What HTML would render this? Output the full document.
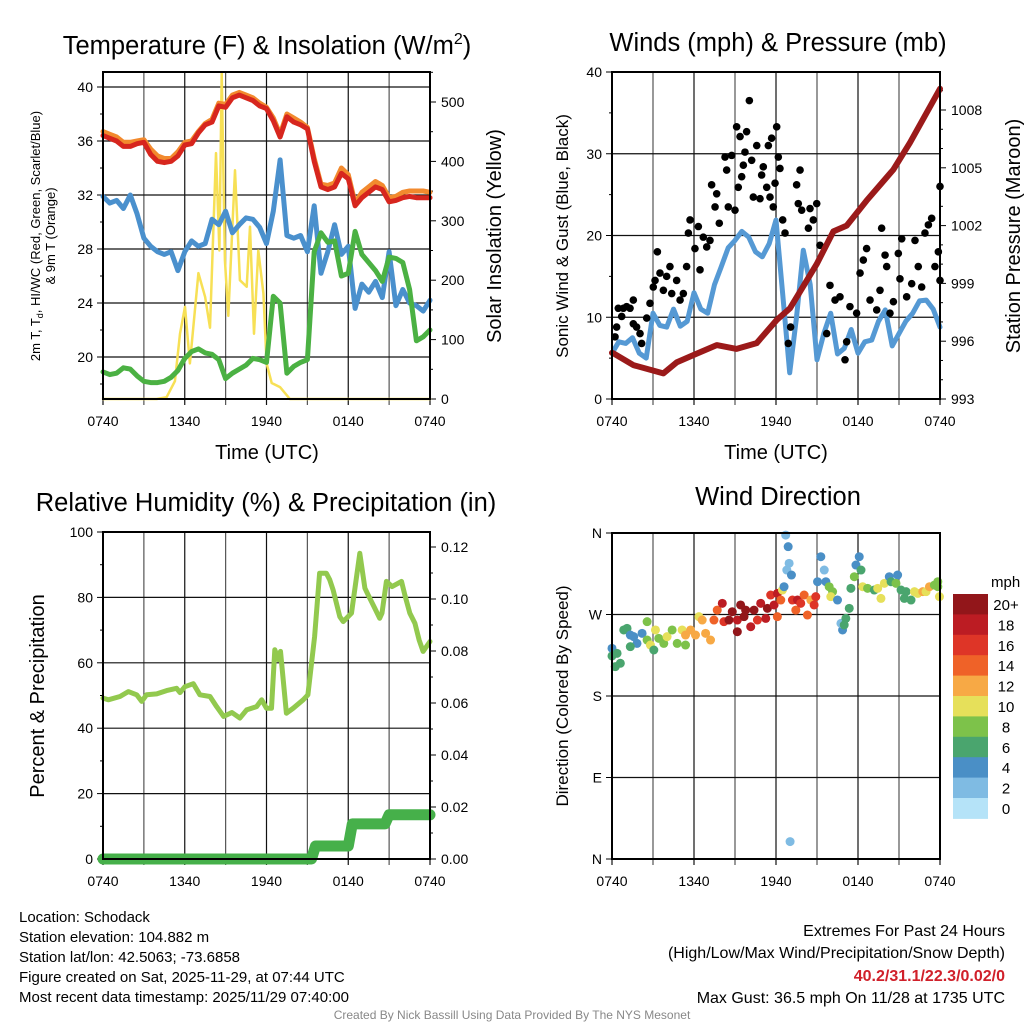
<!DOCTYPE html>
<html><head><meta charset="utf-8">
<style>
html,body{margin:0;padding:0;background:#fff;}
svg{display:block;font-family:"Liberation Sans",sans-serif;}
</style></head>
<body>
<svg id="c" width="1024" height="1024" viewBox="0 0 1024 1024" xmlns="http://www.w3.org/2000/svg">
<rect width="1024" height="1024" fill="#fff"/>
<g id="p1"></g>
<g id="p2"></g>
<g id="p3"></g>
<g id="p4"></g>

<text x="267" y="54" font-size="25.5" text-anchor="middle">Temperature (F) &amp; Insolation (W/m<tspan font-size="16" dy="-10">2</tspan><tspan dy="10">)</tspan></text>
<text x="778" y="51" font-size="25.5" text-anchor="middle">Winds (mph) &amp; Pressure (mb)</text>
<text x="266" y="511" font-size="25.5" text-anchor="middle">Relative Humidity (%) &amp; Precipitation (in)</text>
<text x="778" y="505" font-size="25.5" text-anchor="middle">Wind Direction</text>

<text x="267" y="459" font-size="20" text-anchor="middle">Time (UTC)</text>
<text x="776" y="459" font-size="20" text-anchor="middle">Time (UTC)</text>

<text transform="translate(40,236) rotate(-90)" font-size="13" text-anchor="middle">2m T, T<tspan font-size="9" dy="3">d</tspan><tspan dy="-3">, HI/WC (Red, Green, Scarlet/Blue)</tspan><tspan x="0" dy="15">&amp; 9m T (Orange)</tspan></text>
<text transform="translate(501,236) rotate(-90)" font-size="20" text-anchor="middle">Solar Insolation (Yellow)</text>
<text transform="translate(568,236) rotate(-90)" font-size="17" text-anchor="middle">Sonic Wind &amp; Gust (Blue, Black)</text>
<text transform="translate(1020,236) rotate(-90)" font-size="20" text-anchor="middle">Station Pressure (Maroon)</text>
<text transform="translate(44,696) rotate(-90)" font-size="20" text-anchor="middle">Percent &amp; Precipitation</text>
<text transform="translate(568,696) rotate(-90)" font-size="17" text-anchor="middle">Direction (Colored By Speed)</text>

<g font-size="15">
<text x="19" y="922">Location: Schodack</text>
<text x="19" y="942">Station elevation: 104.882 m</text>
<text x="19" y="962">Station lat/lon: 42.5063; -73.6858</text>
<text x="19" y="982">Figure created on Sat, 2025-11-29, at 07:44 UTC</text>
<text x="19" y="1002">Most recent data timestamp: 2025/11/29 07:40:00</text>
</g>
<g font-size="16" text-anchor="end">
<text x="1005" y="936">Extremes For Past 24 Hours</text>
<text x="1005" y="958">(High/Low/Max Wind/Precipitation/Snow Depth)</text>
<text x="1005" y="981" fill="#d0202a" font-weight="bold">40.2/31.1/22.3/0.02/0</text>
<text x="1005" y="1003">Max Gust: 36.5 mph On 11/28 at 1735 UTC</text>
</g>
<text x="512" y="1019" font-size="12" fill="#888" text-anchor="middle">Created By Nick Bassill Using Data Provided By The NYS Mesonet</text>
<g id="cbar"></g>
</svg>
<script>
// ---------- data ----------
const tempHours = [0,0.5,1,1.5,2,2.5,3,3.5,4,4.5,5,5.5,6,6.5,7,7.5,8,8.5,9,9.5,10,10.5,11,11.5,12,12.5,13,13.5,14,14.5,15,15.5,16,16.5,17,17.5,18,18.5,19,19.5,20,20.5,21,21.5,22,22.5,23,23.5,24];
const tempRed = [36.4,36.2,36.0,35.6,35.6,35.8,35.9,35.0,34.5,34.4,34.5,34.9,35.7,35.8,36.6,37.2,37.4,38.6,38.5,39.2,39.4,39.2,39.0,38.6,38.4,37.5,36.3,37.8,37.4,37.2,36.9,34.5,32.6,32.4,32.6,33.6,33.2,31.2,31.8,32.2,32.6,32.4,31.5,31.6,31.8,31.9,31.8,31.8,31.8];
const tempOrange = [36.7,36.5,36.3,35.9,35.9,36.0,36.1,35.4,34.9,34.7,34.7,35.2,35.9,36.0,36.7,37.3,37.6,38.8,38.7,39.4,39.6,39.4,39.2,38.8,38.5,37.7,36.5,38.0,37.7,37.4,37.0,34.7,32.8,32.7,32.9,34.0,33.5,31.4,32.2,32.6,33.0,32.7,31.8,31.9,32.2,32.3,32.3,32.3,32.2];
const tempBlue = [31.9,31.4,31.6,31.0,32.0,30.6,28.8,28.2,27.8,27.6,27.8,26.4,27.8,28.6,28.2,28.4,30.2,29.8,30.8,29.2,29.8,30.3,30.2,29.6,28.4,30.8,34.6,29.0,28.8,29.0,27.8,31.2,26.2,27.8,29.8,27.6,28.2,23.6,25.4,24.8,25.6,24.4,27.8,23.8,25.0,24.0,23.8,23.4,24.2];
const tempGreen = [18.9,18.7,18.8,19.2,19.1,18.6,18.2,18.1,18.1,18.2,18.5,19.0,19.9,20.4,20.6,20.3,20.2,19.8,18.4,18.8,19.1,19.4,19.9,19.8,19.6,24.5,24.0,18.8,19.3,19.6,19.8,27.8,29.2,28.5,28.6,26.0,26.2,29.3,27.6,27.0,26.4,25.6,27.4,27.3,27.0,25.0,21.2,21.5,22.0];
const solarHours = [0,3.94,4.67,5.28,5.65,6.02,6.38,7.0,7.49,7.85,8.29,8.54,8.71,8.95,9.2,9.69,10.05,10.55,10.79,11.08,11.4,11.77,12.01,12.38,12.99,13.72,24];
const solarWm2 = [0,0,3,30,110,155,60,212,172,120,414,250,549,234,140,385,200,189,290,110,250,178,60,27,20,0,0];
const tempTicks = [20,24,28,32,36,40];
const solarTicks = [0,100,200,300,400,500];
const timeLabels = ["0740","1340","1940","0140","0740"];

const windHours = [0,0.5,1,1.5,2,2.5,3,3.5,4,4.5,5,5.5,6,6.5,7,7.5,8,8.5,9,9.5,10,10.5,11,11.5,12,12.5,13,13.5,14,14.5,15,15.5,16,16.5,17,17.5,18,18.5,19,19.5,20,20.5,21,21.5,22,22.5,23,23.5,24];
const windMph = [5.6,7,6.8,7.5,5.6,5,10.5,9,8.8,11,8.9,9.5,13,11,10.5,14,16.2,18.5,19.4,20.5,19.8,18,17.4,19,21.9,12.7,3.2,10,18.2,14,4.8,8,10.5,5.5,6.2,8.5,5.6,7,7.2,9.5,10.9,6.5,8.0,9.5,10.5,12,12.1,11,8.8];
const gustHours = [0.22,0.34,0.46,0.71,0.83,1.07,1.32,1.56,1.56,1.8,2.05,2.17,2.54,2.78,3.02,3.15,3.32,3.51,3.76,4.0,4.24,4.37,4.73,4.98,5.22,5.46,5.59,5.71,6.07,6.32,6.44,6.68,6.93,7.17,7.29,7.54,7.66,7.85,8.27,8.39,8.51,8.76,9.0,9.12,9.24,9.37,9.49,9.61,9.73,9.85,10.05,10.22,10.34,10.59,10.83,10.95,11.07,11.32,11.44,11.56,11.68,11.8,11.93,12.05,12.17,12.29,12.49,12.66,12.9,13.07,13.51,13.63,13.76,13.88,14.37,14.49,14.73,14.98,15.22,15.71,15.95,16.32,16.68,17.05,17.17,17.41,17.9,18.15,18.39,18.63,18.88,19.37,19.61,19.73,19.98,20.1,20.34,20.59,20.95,21.07,21.2,21.56,21.93,22.17,22.41,22.66,22.9,23.15,23.39,23.63,23.88,24.0,24.0];
const gustMph = [7.6,8.8,11.1,10.1,11.1,11.3,11.1,12.1,9.2,8.8,8.0,6.8,9.9,11.7,13.7,14.5,18.0,15.4,13.3,15.0,16.2,12.9,14.5,12.1,12.9,16.2,20.3,21.9,18.4,21.1,15.8,19.8,18.6,19.4,26.2,23.5,25.1,21.5,29.6,28.0,23.5,29.8,23.1,33.3,25.9,32.1,27.2,28.6,30.2,32.7,36.5,29.2,24.7,31.0,24.5,27.4,28.4,25.9,31.0,24.7,31.9,23.5,26.4,33.3,29.6,28.2,21.9,20.3,6.8,8.8,26.2,23.9,28.0,23.1,20.9,23.3,21.9,23.9,18.8,8.0,13.9,12.1,12.5,4.8,7.0,11.3,10.5,15.4,17.0,18.4,12.1,10.9,13.3,20.9,17.6,16.2,10.5,11.9,17.8,14.7,19.6,12.5,14.1,19.4,16.2,13.7,20.3,21.3,22.1,16.2,18.0,14.5,26.0];
const presHours = [0,0.1,1.56,3.75,4.73,5.95,7.66,9.12,10.59,12.05,13.02,14.98,16.2,17.17,18.63,20.58,21.8,24];
const presMb = [995.4,995.37,994.76,994.33,994.9,995.28,995.8,995.6,995.9,997.1,997.7,1000.0,1001.7,1002.0,1003.3,1004.9,1006.3,1009.1];
const windTicks = [0,10,20,30,40];
const presTicks = [993,996,999,1002,1005,1008];

const rhHours = [0,0.39,1.25,1.86,2.47,2.84,3.2,3.94,4.67,5.4,5.65,6.01,6.63,7.11,7.85,8.34,8.85,9.46,10.05,10.54,11.27,11.64,12.0,12.37,12.61,12.86,13.03,13.46,13.95,14.69,15.04,15.53,15.9,16.39,16.64,16.89,17.38,17.63,18.24,18.85,19.22,19.46,19.95,20.31,20.48,20.8,21.22,21.91,22.15,22.52,22.89,23.2,23.49,24];
const rhPct = [49.2,48.7,49.7,51.2,50.2,48.2,50.2,50.5,51.5,52.2,50.9,52.7,53.6,50.2,49.7,46.6,43.6,44.8,43.1,45.6,46.6,48.7,46.1,46.1,64.0,61.0,63.5,44.6,46.1,48.7,50.2,68.0,87.4,87.4,85.4,82.3,74.1,72.6,75.2,93.5,82.8,80.8,76.7,73.6,75.2,84.9,83.3,84.9,80.8,75.2,72.1,67.0,63.5,66.5];
const precipHours = [0,15.3,15.6,18.0,18.3,20.7,21.0,24];
const precipIn = [0,0,0.005,0.005,0.0135,0.0135,0.017,0.017];
const rhTicks = [0,20,40,60,80,100];
const precipTicks = [0,0.02,0.04,0.06,0.08,0.10,0.12];

const dirHours = [0,0,0.24,0.61,0.37,0.86,1.10,1.34,1.59,1.83,1.34,2.20,2.57,2.57,2.81,3.06,3.18,3.42,3.79,4.03,4.40,4.77,5.13,5.38,5.38,5.75,6.11,6.36,6.60,6.85,7.21,7.46,7.70,8.07,8.19,8.56,8.80,9.17,9.17,9.41,9.66,9.78,10.15,10.39,10.64,10.88,11.25,11.37,11.61,11.86,12.10,12.10,12.35,12.47,12.59,12.71,12.89,12.96,12.79,13.13,13.03,13.20,13.45,13.57,13.81,14.06,14.30,14.55,14.79,14.91,15.04,15.28,15.53,15.65,15.89,16.14,16.01,16.50,16.87,16.75,16.99,17.11,17.36,17.48,17.73,17.85,18.09,18.22,18.34,18.70,19.19,19.44,19.68,19.93,20.29,20.42,20.90,20.78,21.15,21.39,21.52,21.88,22.13,22.37,22.74,22.98,23.23,23.59,23.84,23.96,23.84];
const dirDeg = [232.6,224.2,212.4,216.1,227.1,252.9,254.7,247.3,245.5,238.1,234.5,249.2,262.1,241.8,236.3,230.8,252.9,243.7,238.1,245.5,252.9,238.1,252.9,247.3,236.3,252.9,247.3,267.6,263.9,249.2,241.8,263.9,274.9,282.3,262.1,263.9,273.1,251.0,263.9,280.5,267.6,274.9,256.5,274.9,263.9,282.3,265.7,276.8,291.5,280.5,293.3,267.6,286.0,297.0,300.7,357.7,344.9,326.5,319.1,313.6,19.2,286.0,274.9,286.0,282.3,291.5,269.4,286.0,280.5,289.7,306.2,333.8,319.1,306.2,300.7,295.2,289.7,286.0,252.9,260.2,258.4,265.7,276.8,298.9,311.7,324.6,333.8,319.1,300.7,298.9,297.0,298.9,287.8,304.4,311.7,306.2,313.6,304.4,297.0,287.8,295.2,286.0,295.2,293.3,295.2,295.2,300.7,302.5,306.2,289.7,300.7];
const dirSpeed = [5,6,6,6,6,6,6,4,4,4,6,4,8,8,10,6,10,8,8,10,8,8,10,12,8,12,12,10,12,12,12,14,14,18,16,20,20,20,18,20,20,20,18,20,16,18,18,20,16,18,18,14,14,10,4,2,4,2,2,4,2,16,14,18,16,14,14,12,16,16,4,4,2,4,8,8,10,4,4,2,6,6,6,6,8,4,4,6,10,8,6,10,10,10,4,6,4,8,6,6,6,6,10,10,12,10,12,8,8,10,8];
const dirTicks = ["N","E","S","W","N"];
const speedLabels = ["20+","18","16","14","12","10","8","6","4","2","0"];
const speedColors = ["#92161a","#bc1c23","#de3527","#ef6228","#f7a945","#e6e05a","#7dc24a","#4aa56e","#4a8fc6","#7fbbe3","#b5e3f8"];

// ---------- helpers ----------
const NS="http://www.w3.org/2000/svg";
function mk(parent,tag,attrs,text){const e=document.createElementNS(NS,tag);for(const k in attrs)e.setAttribute(k,attrs[k]);if(text!==undefined)e.textContent=text;parent.appendChild(e);return e;}
function lin(d0,d1,r0,r1){return v=>r0+(v-d0)*(r1-r0)/(d1-d0);}

function frame(g,L,T,R,B,xs){
  for(let h=0;h<=24;h+=3){
    const x=xs(h);
    const gl=mk(g,'line',{x1:x,y1:T,x2:x,y2:B+6,stroke:(h%6===0)?'#111':'#555','stroke-width':1.2});
    
    
  }
  timeLabels.forEach((lab,i)=>{
    const t=mk(g,'text',{x:xs(i*6),y:B+27,'font-size':14,'text-anchor':'middle'},lab);
    
    
  });
}
function border(g,L,T,R,B){
  const r=mk(g,'rect',{x:L,y:T,width:R-L,height:B-T,fill:'none',stroke:'#000','stroke-width':2});
  
  
}
function hgrid(g,L,R,y){
  const l=mk(g,'line',{x1:L,y1:y,x2:R,y2:y,stroke:'#111','stroke-width':1.2});
  
  
}
function lTick(g,L,y,lab,len){
  mk(g,'line',{x1:L-len,y1:y,x2:L,y2:y,stroke:'#000','stroke-width':1});
  if(lab!==null){const t=mk(g,'text',{x:L-10,y:y+5,'font-size':14,'text-anchor':'end'},lab);
    
    }
}
function rTick(g,R,y,lab,len){
  mk(g,'line',{x1:R,y1:y,x2:R+len,y2:y,stroke:'#000','stroke-width':1});
  if(lab!==null){const t=mk(g,'text',{x:R+11,y:y+5,'font-size':14,'text-anchor':'start'},lab);
    
    }
}
function poly(g,hs,vs,xs,ys,color,w,name){
  const pts=hs.map((h,i)=>xs(h).toFixed(1)+','+ys(vs[i]).toFixed(1)).join(' ');
  const p=mk(g,'polyline',{points:pts,fill:'none',stroke:color,'stroke-width':w,'stroke-linejoin':'round','stroke-linecap':'round'});
  
  
  return p;
}

// ---------- panel 1 ----------
(function(){
  const g=document.getElementById('p1');const L=103,T=72,R=430,B=399;
  const xs=lin(0,24,L,R), ys=lin(20,40,357,87), ysol=lin(0,500,399,102);
  frame(g,L,T,R,B,xs);
  tempTicks.forEach(v=>{hgrid(g,L,R,ys(v));lTick(g,L,ys(v),String(v),6);});
  for(let v=18;v<=40;v+=2) if(v%4) lTick(g,L,ys(v),null,3);
  solarTicks.forEach(v=>rTick(g,R,ysol(v),String(v),6));
  for(let v=50;v<=550;v+=50) if(v%100) rTick(g,R,ysol(v),null,3);
  const c=mk(g,'g',{});
  poly(c,solarHours,solarWm2,xs,ysol,'#f7e055',2.5,'solar-insolation-line');
  poly(c,tempHours,tempOrange,xs,ys,'#f28a2e',5,'temp-9m-line');
  poly(c,tempHours,tempRed,xs,ys,'#d7261e',5,'temp-2m-line');
  poly(c,tempHours,tempBlue,xs,ys,'#4a90cd',5,'wind-chill-line');
  poly(c,tempHours,tempGreen,xs,ys,'#4bb143',5,'dewpoint-line');
  border(g,L,T,R,B);
})();

// ---------- panel 2 ----------
(function(){
  const g=document.getElementById('p2');const L=612,T=72,R=940,B=399;
  const xs=lin(0,24,L,R), ys=lin(0,40,399,72), yp=lin(993,1008,399,110);
  frame(g,L,T,R,B,xs);
  windTicks.forEach(v=>{hgrid(g,L,R,ys(v));lTick(g,L,ys(v),String(v),6);});
  for(let v=5;v<40;v+=10) lTick(g,L,ys(v),null,3);
  presTicks.forEach(v=>rTick(g,R,yp(v),String(v),6));
  for(let v=994;v<=1009;v++) if((v-993)%3) rTick(g,R,yp(v),null,3);
  poly(g,windHours,windMph,xs,ys,'#5599d4',5,'sonic-wind-line');
  gustHours.forEach((h,i)=>{
    const c=mk(g,'circle',{cx:xs(h),cy:ys(gustMph[i]),r:3.8,fill:'#000'});
    
    
  });
  poly(g,presHours,presMb,xs,yp,'#9b1a1a',6,'pressure-line');
  border(g,L,T,R,B);
})();

// ---------- panel 3 ----------
(function(){
  const g=document.getElementById('p3');const L=103,T=532,R=430,B=859;
  const xs=lin(0,24,L,R), ys=lin(0,100,859,532), yp=lin(0,0.12,859,547);
  frame(g,L,T,R,B,xs);
  rhTicks.forEach(v=>{if(v>0&&v<100)hgrid(g,L,R,ys(v));lTick(g,L,ys(v),String(v),6);});
  for(let v=10;v<100;v+=20) lTick(g,L,ys(v),null,3);
  precipTicks.forEach(v=>rTick(g,R,yp(v),v.toFixed(2),6));
  for(let v=0.01;v<0.125;v+=0.02) rTick(g,R,yp(v),null,3);
  poly(g,rhHours,rhPct,xs,ys,'#92c94e',5,'relative-humidity-line');
  poly(g,precipHours,precipIn,xs,yp,'#46b04a',11,'precipitation-line');
  border(g,L,T,R,B);
})();

// ---------- panel 4 ----------
(function(){
  const g=document.getElementById('p4');const L=612,T=533,R=940,B=859;
  const xs=lin(0,24,L,R), ys=lin(0,360,859,533);
  frame(g,L,T,R,B,xs);
  dirTicks.forEach((lab,i)=>{const y=ys(i*90); if(i>0&&i<4)hgrid(g,L,R,y); lTick(g,L,y,lab,6);});
  dirHours.forEach((h,i)=>{
    const idx=Math.min(10,Math.floor(dirSpeed[i]/2));
    const c=mk(g,'circle',{cx:xs(h),cy:ys(dirDeg[i]),r:4.5,fill:speedColors[10-idx]});
    
    
  });
  border(g,L,T,R,B);
})();

// ---------- colorbar ----------
(function(){
  const g=document.getElementById('cbar');const x=953,w=35,y0=594,h=20.4;
  const t=mk(g,'text',{x:991,y:587,'font-size':15},'mph');
  
  
  speedLabels.forEach((lab,i)=>{
    const r=mk(g,'rect',{x:x,y:y0+i*h,width:w,height:h+0.5,fill:speedColors[i]});
    
    
    const tl=mk(g,'text',{x:1006,y:y0+i*h+16,'font-size':15,'text-anchor':'middle'},lab);
    
    
  });
})();
</script>
</body></html>
